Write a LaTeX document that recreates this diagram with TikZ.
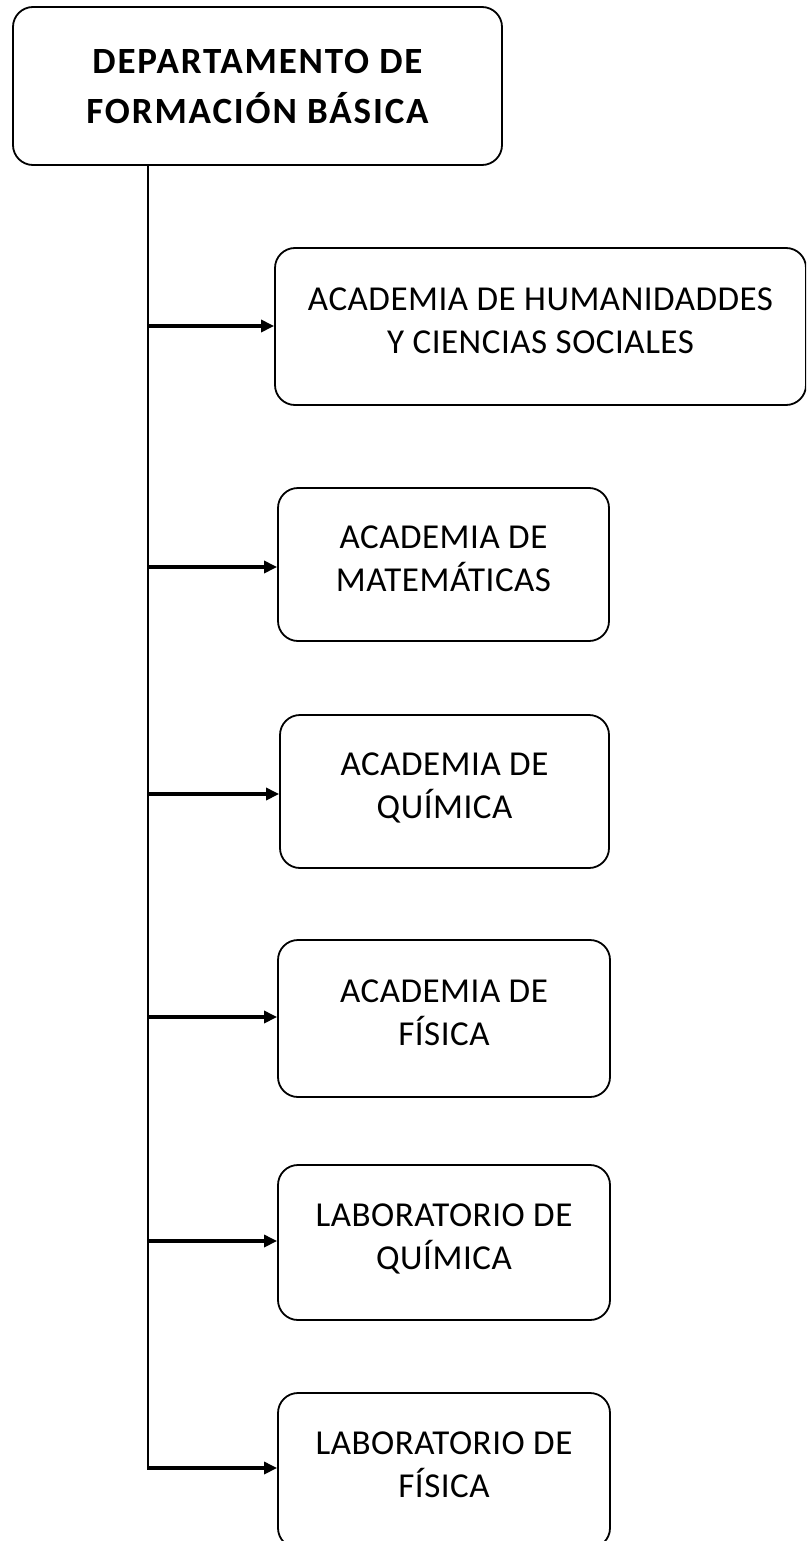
\documentclass[tikz,border=0pt]{standalone}
\usepackage{fontspec}
\setmainfont{Carlito}
\usetikzlibrary{arrows.meta}
\newcommand{\dn}{\rule[-12pt]{0pt}{0pt}}
\begin{document}
\begin{tikzpicture}[x=1pt,y=-1pt,
  box/.style={draw=black, line width=1.8pt, rounded corners=20pt, fill=white, align=center, inner sep=0pt, font=\addfontfeatures{LetterSpace=1.5}\fontsize{35}{43}\selectfont},
  arr/.style={line width=3.2pt, -{Triangle[length=13pt,width=12pt]}},
  trunk/.style={line width=2pt}]
\useasboundingbox (0,0) rectangle (806,1541);
\begin{scope}
\clip (0,0) rectangle (806,1541);
\node[box, minimum width=489pt, minimum height=158pt, font=\bfseries\addfontfeatures{LetterSpace=5}\fontsize{37}{50}\selectfont] (dep) at (257.5,86) {DEPARTAMENTO DE\\FORMACIÓN BÁSICA};
\node[box, minimum width=531pt, minimum height=157pt] (b1) at (540.5,326.5) {ACADEMIA DE HUMANIDADDES\\Y CIENCIAS SOCIALES\dn};
\node[box, minimum width=331pt, minimum height=153pt] (b2) at (443.5,564.5) {ACADEMIA DE\\MATEMÁTICAS\dn};
\node[box, minimum width=329pt, minimum height=153pt] (b3) at (444.5,791.5) {ACADEMIA DE\\QUÍMICA\dn};
\node[box, minimum width=332pt, minimum height=157pt] (b4) at (444,1018.5) {ACADEMIA DE\\FÍSICA\dn};
\node[box, minimum width=332pt, minimum height=155pt] (b5) at (444,1242.5) {LABORATORIO DE\\QUÍMICA\dn};
\node[box, minimum width=332pt, minimum height=155pt] (b6) at (444,1470.5) {LABORATORIO DE\\FÍSICA\dn};
\coordinate (top) at (148,165);
\coordinate (j1) at (148,326);
\coordinate (j2) at (148,567);
\coordinate (j3) at (148,794);
\coordinate (j4) at (148,1017);
\coordinate (j5) at (148,1241);
\coordinate (j6) at (148,1468);
\draw[trunk] (dep.south -| top) -- (j6);
\draw[arr] ([xshift=-1pt]j1) -- (j1 -| b1.west);
\draw[arr] ([xshift=-1pt]j2) -- (j2 -| b2.west);
\draw[arr] ([xshift=-1pt]j3) -- (j3 -| b3.west);
\draw[arr] ([xshift=-1pt]j4) -- (j4 -| b4.west);
\draw[arr] ([xshift=-1pt]j5) -- (j5 -| b5.west);
\draw[arr] ([xshift=-1pt]j6) -- (j6 -| b6.west);
\end{scope}
\end{tikzpicture}
\end{document}
